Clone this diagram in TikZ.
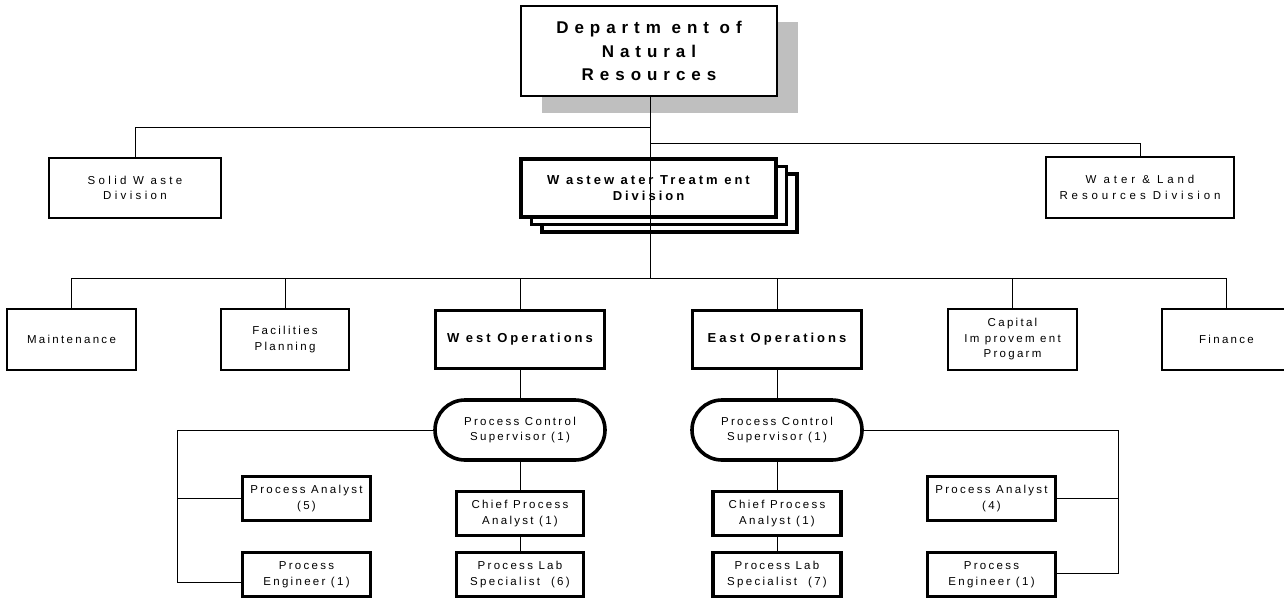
\documentclass[tikz,border=0pt]{standalone}
\usepackage{fontspec}
\setmainfont{Liberation Sans}
\newfontfamily\orgfont{Liberation Sans}[LetterSpace=20]
\newfontfamily\orgwidefont{Liberation Sans}[LetterSpace=29]
\newfontfamily\orgwiderfont{Liberation Sans}[LetterSpace=34]
\newfontfamily\orgboldfont{Liberation Sans}[LetterSpace=23]
\newfontfamily\orgtitlefont{Liberation Sans}[LetterSpace=35]
\usetikzlibrary{shapes.misc}

\begin{document}
\begin{tikzpicture}[x=1pt,y=-1pt,
  conn/.style={line width=1pt, line cap=rect},
  plainbox/.style={draw, line width=1.4pt, fill=white, align=center, inner sep=0pt,
    font=\orgfont\fontsize{11.5}{15.5}\selectfont},
  heavybox/.style={plainbox, line width=3.6pt},
  boldtext/.style={font=\orgboldfont\bfseries\fontsize{13}{16.5}\selectfont},
  pill/.style={heavybox, rounded rectangle},
  shadowbox/.style={fill=black!25, draw=none, inner sep=0pt}
]
\useasboundingbox (0,0) rectangle (1284,600);
\clip (0,0) rectangle (1284,600);

% top level with drop shadow
\node[shadowbox, minimum width=256pt, minimum height=91pt] (dnrshadow) at (670,67) {};
\node[plainbox, minimum width=256pt, minimum height=90pt,
  font=\orgtitlefont\bfseries\fontsize{17}{23.5}\selectfont] (dnr) at (649,51)
  {Departm ent of\\Natural\\Resources};

% divisions
\node[plainbox, minimum width=172pt, minimum height=60pt,
  font=\orgwidefont\fontsize{11.5}{15.5}\selectfont] (solid) at (135,188) {Solid W aste\\Division};
\node[plainbox, minimum width=188pt, minimum height=61pt,
  font=\orgwiderfont\fontsize{11.5}{15.5}\selectfont] (wld) at (1140,187.5) {W ater \& Land\\Resources Division};

% stacked division box
\node[heavybox, minimum width=255pt, minimum height=58pt] (wtdback) at (669.5,203) {};
\node[heavybox, minimum width=255pt, minimum height=58pt] (wtdmid) at (659,195.5) {};
\node[heavybox, boldtext, minimum width=255pt, minimum height=58pt] (wtd) at (648.5,188)
  {W astew ater Treatm ent\\Division};

% sections
\node[plainbox, minimum width=129pt, minimum height=61pt] (maint) at (71.5,339.5) {Maintenance};
\node[plainbox, minimum width=128pt, minimum height=61pt] (fac) at (285,339.5) {Facilities\\Planning};
\node[heavybox, boldtext, minimum width=169pt, minimum height=58pt] (west) at (520,339.5) {W est Operations};
\node[heavybox, boldtext, minimum width=169pt, minimum height=58pt] (east) at (777,339.5) {East Operations};
\node[plainbox, minimum width=129pt, minimum height=61pt] (cap) at (1012.5,339.5) {Capital\\Im provem ent\\Progarm};
\node[plainbox, minimum width=129pt, minimum height=61pt] (fin) at (1226.5,339.5) {Finance};

% west operations staff
\node[pill, minimum width=170pt, minimum height=60pt] (wsup) at (520,430) {Process Control\\Supervisor (1)};
\node[heavybox, minimum width=128pt, minimum height=44pt] (wana) at (306.5,498.5) {Process Analyst\\(5)};
\node[heavybox, minimum width=128pt, minimum height=44pt] (weng) at (306.5,574.5) {Process\\Engineer (1)};
\node[heavybox, minimum width=127pt, minimum height=44pt] (wchief) at (520,513.5) {Chief Process\\Analyst (1)};
\node[heavybox, minimum width=127pt, minimum height=44pt] (wlab) at (520,574.5) {Process Lab\\Specialist\ \ (6)};

% east operations staff
\node[pill, minimum width=170pt, minimum height=60pt] (esup) at (777,430) {Process Control\\Supervisor (1)};
\node[heavybox, minimum width=128pt, minimum height=44pt] (echief) at (777,513.5) {Chief Process\\Analyst (1)};
\node[heavybox, minimum width=128pt, minimum height=44pt] (elab) at (777,574.5) {Process Lab\\Specialist\ \ (7)};
\node[heavybox, minimum width=128pt, minimum height=44pt] (eana) at (991.5,498.5) {Process Analyst\\(4)};
\node[heavybox, minimum width=128pt, minimum height=44pt] (eeng) at (991.5,574.5) {Process\\Engineer (1)};

% junctions
\coordinate (busA) at (650,127);
\coordinate (busB) at (650,143);
\coordinate (busC) at (650,278);
\coordinate (wcorner) at (177,582);
\coordinate (ecorner) at (1118,573);

% connectors
\draw[conn] (dnr.south -| busA) -- (busC);
\draw[conn] (solid.north) |- (busA);
\draw[conn] (wld.north) |- (busB);
\foreach \n in {maint,fac,west,east,cap,fin}
  \draw[conn] (\n.north) |- (busC);

\draw[conn] (west.south) -- (wsup.north);
\draw[conn] (wsup.south) -- (wchief.north);
\draw[conn] (wchief.south) -- (wlab.north);
\draw[conn] (wsup.west) -| (wcorner) -- (wcorner -| weng.west);
\draw[conn] (wana.west) -- (wana.west -| wcorner);

\draw[conn] (east.south) -- (esup.north);
\draw[conn] (esup.south) -- (echief.north);
\draw[conn] (echief.south) -- (elab.north);
\draw[conn] (esup.east) -| (ecorner) -- (eeng.east |- ecorner);
\draw[conn] (eana.east) -- (eana.east -| ecorner);
\end{tikzpicture}
\end{document}
